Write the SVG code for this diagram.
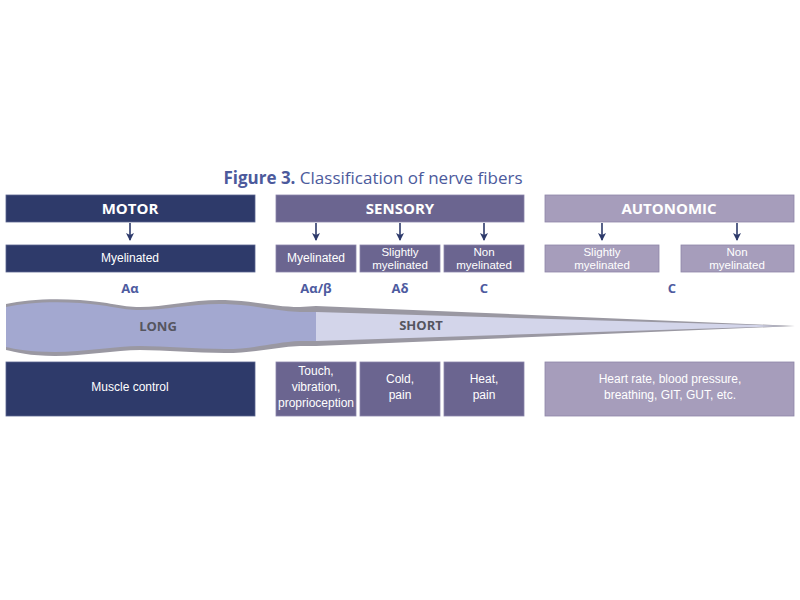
<svg xmlns="http://www.w3.org/2000/svg" width="800" height="600" viewBox="0 0 800 600">
<defs>
<marker id="ah" viewBox="0 0 8 8" refX="7" refY="4" markerWidth="8" markerHeight="8" markerUnits="userSpaceOnUse" orient="auto">
<path d="M0,0 L8,4 L0,8 L2,4 Z" fill="#2d3a6b"/>
</marker>
<style>
.motor{fill:#2e3a6a;stroke:#5a6490;stroke-width:0.8}
.sens{fill:#6b6590;stroke:#8a84aa;stroke-width:0.8}
.auto{fill:#a69dbb;stroke:#8e86a8;stroke-width:0.8}
.hd{font-family:"Open Sans","Noto Sans",sans-serif;font-weight:700;font-size:15px;fill:#ffffff;text-anchor:middle}
.tx{font-family:"Liberation Sans",Arial,sans-serif;font-size:12px;fill:#ffffff;text-anchor:middle}
.t2{font-family:"Liberation Sans",Arial,sans-serif;font-size:11.5px;fill:#ffffff;text-anchor:middle}
.gr{font-family:"Open Sans","Noto Sans",sans-serif;font-weight:700;font-size:13px;fill:#4e5ba0;text-anchor:middle}
.fl{font-family:"Open Sans","Noto Sans",sans-serif;font-weight:700;font-size:13px;fill:#55555f;text-anchor:middle}
.arr{stroke:#2d3a6b;stroke-width:1.6;fill:none;marker-end:url(#ah)}
</style>
</defs>
<rect width="800" height="600" fill="#ffffff"/>
<text id="title" x="373" y="184" text-anchor="middle" font-family="'Open Sans','Noto Sans',sans-serif" font-size="17" fill="#4c5a9c"><tspan font-weight="700">Figure 3.</tspan> Classification of nerve fibers</text>

<g id="motor">
<rect class="motor" x="6" y="195" width="249" height="27"/>
<text class="hd" x="130" y="214">MOTOR</text>
</g>
<g id="sensory">
<rect class="sens" x="276" y="195" width="248" height="27"/>
<text class="hd" x="400" y="214">SENSORY</text>
</g>
<g id="autonomic">
<rect class="auto" x="545" y="195" width="249" height="27"/>
<text class="hd" x="669" y="214">AUTONOMIC</text>
</g>

<g id="motor-myelinated">
<rect class="motor" x="6" y="245" width="249" height="27"/>
<text class="tx" x="130" y="262">Myelinated</text>
</g>
<g id="sensory-myelinated">
<rect class="sens" x="276" y="245" width="80" height="27"/>
<text class="tx" x="316" y="262">Myelinated</text>
</g>
<g id="sensory-slightly">
<rect class="sens" x="360" y="245" width="80" height="27"/>
<text class="t2" x="400" y="256">Slightly</text>
<text class="t2" x="400" y="269">myelinated</text>
</g>
<g id="sensory-non">
<rect class="sens" x="444" y="245" width="80" height="27"/>
<text class="t2" x="484" y="256">Non</text>
<text class="t2" x="484" y="269">myelinated</text>
</g>
<g id="auto-slightly">
<rect class="auto" x="545" y="245" width="114" height="27"/>
<text class="t2" x="602" y="256">Slightly</text>
<text class="t2" x="602" y="269">myelinated</text>
</g>
<g id="auto-non">
<rect class="auto" x="681" y="245" width="113" height="27"/>
<text class="t2" x="737" y="256">Non</text>
<text class="t2" x="737" y="269">myelinated</text>
</g>

<g id="connectors">
<line class="arr" x1="130" y1="223" x2="130" y2="240"/>
<line class="arr" x1="316" y1="223" x2="316" y2="240"/>
<line class="arr" x1="400" y1="223" x2="400" y2="240"/>
<line class="arr" x1="484" y1="223" x2="484" y2="240"/>
<line class="arr" x1="602" y1="223" x2="602" y2="240"/>
<line class="arr" x1="737" y1="223" x2="737" y2="240"/>
</g>

<g id="fiber-types">
<text class="gr" x="130" y="293">Aα</text>
<text class="gr" x="316" y="293">Aα/β</text>
<text class="gr" x="400" y="293">Aδ</text>
<text class="gr" x="484" y="293">C</text>
<text class="gr" x="672" y="293">C</text>
</g>

<g id="fiber">
<path fill="#9a98a2" d="M6,304 C25,300 50,298 80,300 C110,302 120,307 140,307 C165,307 195,299 225,300 C255,301 275,307 300,307 L316,306 L795,326 L316,346 L300,346 C275,347 255,353 225,353 C195,353 165,350 140,350 C115,350 85,356 55,356 C30,356 15,352 6,350 Z"/>
<path fill="#a3a8d0" d="M6,307 C25,303 50,301 80,303 C110,305 120,310 140,310 C165,310 195,303 225,304 C255,305 275,311 300,312 L316,312 L316,341 L300,341 C275,342 255,349 225,349 C195,349 165,346 140,346 C115,346 85,352 55,352 C30,352 15,349 6,347 Z"/>
<path fill="#d3d5ea" d="M316,312 L785,326 L316,341 Z"/>
<text class="fl" x="158" y="331">LONG</text>
<text class="fl" x="421" y="330">SHORT</text>
</g>

<g id="motor-function">
<rect class="motor" x="6" y="362" width="249" height="54"/>
<text class="tx" x="130" y="391">Muscle control</text>
</g>
<g id="sensory-touch">
<rect class="sens" x="276" y="362" width="80" height="54"/>
<text class="tx" x="316" y="375">Touch,</text>
<text class="tx" x="316" y="391">vibration,</text>
<text class="tx" x="316" y="407">proprioception</text>
</g>
<g id="sensory-cold">
<rect class="sens" x="360" y="362" width="80" height="54"/>
<text class="tx" x="400" y="383">Cold,</text>
<text class="tx" x="400" y="399">pain</text>
</g>
<g id="sensory-heat">
<rect class="sens" x="444" y="362" width="80" height="54"/>
<text class="tx" x="484" y="383">Heat,</text>
<text class="tx" x="484" y="399">pain</text>
</g>
<g id="auto-function">
<rect class="auto" x="545" y="362" width="249" height="54"/>
<text class="tx" x="670" y="383">Heart rate, blood pressure,</text>
<text class="tx" x="670" y="399">breathing, GIT, GUT, etc.</text>
</g>
</svg>
